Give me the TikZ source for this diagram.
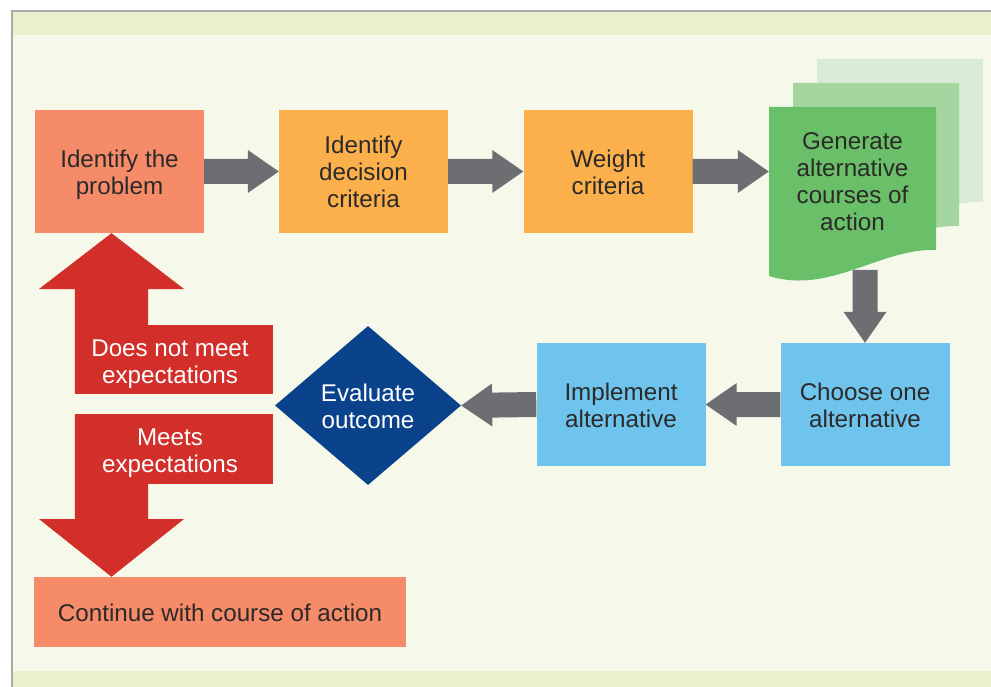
\documentclass[tikz,border=0pt]{standalone}
\usepackage{fontspec}
\setmainfont{Liberation Sans}
\usetikzlibrary{calc,shapes.geometric}

\definecolor{salmon}{HTML}{F68B69}
\definecolor{orangeb}{HTML}{FBB04C}
\definecolor{greenA}{HTML}{6ABF69}
\definecolor{greenB}{HTML}{A5D6A0}
\definecolor{greenC}{HTML}{D8EBD7}
\definecolor{blueb}{HTML}{6EC4ED}
\definecolor{navy}{HTML}{0A428C}
\definecolor{redc}{HTML}{D22F2A}
\definecolor{grayarr}{HTML}{6D6E71}
\definecolor{bgmain}{HTML}{F6F9EA}
\definecolor{bgband}{HTML}{EAF0CC}
\definecolor{framec}{HTML}{A7A9AC}
\definecolor{ink}{HTML}{2B2A29}

% thick block arrow between two points: shaft, then a triangular head
\newcommand\fatarrow[2]{%
  \coordinate (fa-h) at ($(#2)!31pt!(#1)$);
  \fill[grayarr] ($(#1)!12.5pt!90:(#2)$) -- ($(fa-h)!12.5pt!90:(#2)$)
    -- ($(fa-h)!21.5pt!90:(#2)$) -- (#2) -- ($(fa-h)!21.5pt!-90:(#2)$)
    -- ($(fa-h)!12.5pt!-90:(#2)$) -- ($(#1)!12.5pt!-90:(#2)$) -- cycle;}

% centred lines of a label, evenly spaced, set a little low in their box
\newcommand\lines[1]{\raisebox{-4pt}[\height][\depth]{\begin{tabular}{@{}c@{}}#1\end{tabular}}}

\tikzset{
  txt/.style={font=\fontsize{24.2}{27}\selectfont, inner sep=0pt},
  stepbox/.style={txt, text=ink, minimum width=169pt, minimum height=123pt},
  redlabel/.style={txt, text=white}
}

\begin{document}
\begin{tikzpicture}[x=1pt,y=-1pt]
\useasboundingbox (0,0) rectangle (991,687);

% page background and frame
\fill[white] (0,0) rectangle (991,687);
\fill[bgband] (12,11) rectangle (991,35);
\fill[bgmain] (12,35) rectangle (991,671);
\fill[bgband] (12,671) rectangle (991,687);
\draw[framec, line width=1.5pt] (12,687) -- (12,11) -- (991,11);

% top row of steps
\node[stepbox, fill=salmon] (b1) at (119.5,171.5) {\lines{Identify the\\problem}};
\node[stepbox, fill=orangeb] (b2) at (363.5,171.5) {\lines{Identify\\decision\\criteria}};
\node[stepbox, fill=orangeb] (b3) at (608,171.5) {\lines{Weight\\criteria}};

% stacked documents for the alternatives
\fill[greenC] (817,59) -- (983,59) -- (983,202)
  .. controls (927,200) and (877,247) .. (817,228) -- cycle;
\fill[greenB] (793,83) -- (959,83) -- (959,226)
  .. controls (903,224) and (853,271) .. (793,252) -- cycle;
\fill[greenA] (769,107) -- (936,107) -- (936,250)
  .. controls (880,248) and (830,295) .. (769,276) -- cycle;
\node[txt, text=ink, minimum width=167pt, minimum height=148pt] (gen) at (852.5,181)
  {\lines{Generate\\alternative\\courses of\\action}};

% bottom row of steps
\node[stepbox, fill=blueb] (choose) at (865,404.5) {\lines{Choose one\\alternative}};
\node[stepbox, fill=blueb] (impl) at (621,404.5) {\lines{Implement\\alternative}};
\node[txt, text=white, shape=diamond, fill=navy, minimum width=186pt,
  minimum height=159pt, aspect=1.17] (eval) at (368,405.5) {\lines{Evaluate\\outcome}};

\node[stepbox, fill=salmon, minimum width=372pt, minimum height=70pt] (cont)
  at (220,612) {\lines{Continue with course of action}};

% grey connectors
\coordinate (g-in) at (gen.west |- b3.east);
\coordinate (g-out) at (865,270);
\fatarrow{b1.east}{b2.west}
\fatarrow{b2.east}{b3.west}
\fatarrow{b3.east}{g-in}
\fatarrow{g-out}{choose.north}
\fatarrow{choose.west}{impl.east}
\fatarrow{impl.west}{eval.east}

% red outcome arrows
\node[fill=redc, minimum width=198pt, minimum height=69pt, inner sep=0pt] (nomeet) at (174,359.5) {};
\fill[redc] (nomeet.south west) -- (75,289) -- (39,289) -- (111.5,0 |- b1.south)
  -- (184,289) -- (148,289) -- (148,0 |- nomeet.north) -- cycle;
\node[redlabel] (nomeet-t) at (170,361) {\lines{Does not meet\\expectations}};

\node[fill=redc, minimum width=198pt, minimum height=70pt, inner sep=0pt] (meets) at (174,449) {};
\fill[redc] (meets.north west) -- (148,0 |- meets.south) -- (148,519) -- (184,519)
  -- (111.5,0 |- cont.north) -- (39,519) -- (75,519) -- cycle;
\node[redlabel] (meets-t) at (170,450) {\lines{Meets\\expectations}};
\end{tikzpicture}
\end{document}
